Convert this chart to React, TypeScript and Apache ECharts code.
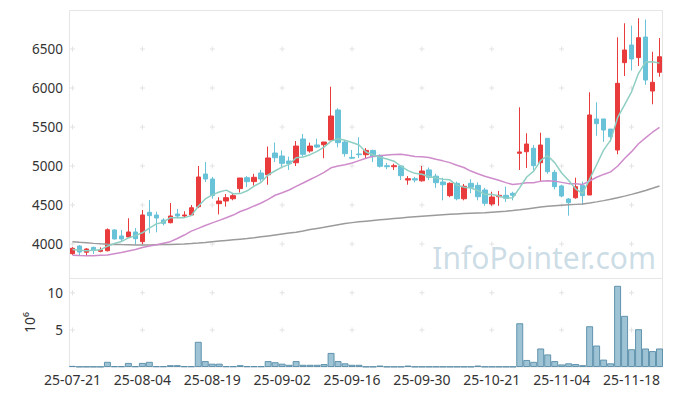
import React, { useEffect, useRef } from "react";
import * as echarts from "echarts";

// Trading days (KRX), tick labels as shown on the axis
const dates = [
  "25-07-21","25-07-22","25-07-23","25-07-24","25-07-25","25-07-28","25-07-29","25-07-30","25-07-31","25-08-01",
  "25-08-04","25-08-05","25-08-06","25-08-07","25-08-08","25-08-11","25-08-12","25-08-13","25-08-14","25-08-18",
  "25-08-19","25-08-20","25-08-21","25-08-22","25-08-25","25-08-26","25-08-27","25-08-28","25-08-29","25-09-01",
  "25-09-02","25-09-03","25-09-04","25-09-05","25-09-08","25-09-09","25-09-10","25-09-11","25-09-12","25-09-15",
  "25-09-16","25-09-17","25-09-18","25-09-19","25-09-22","25-09-23","25-09-24","25-09-25","25-09-26","25-09-29",
  "25-09-30","25-10-01","25-10-02","25-10-10","25-10-13","25-10-14","25-10-15","25-10-16","25-10-17","25-10-20",
  "25-10-21","25-10-22","25-10-23","25-10-24","25-10-27","25-10-28","25-10-29","25-10-30","25-10-31","25-11-03",
  "25-11-04","25-11-05","25-11-06","25-11-07","25-11-10","25-11-11","25-11-12","25-11-13","25-11-14","25-11-17",
  "25-11-18","25-11-19","25-11-20","25-11-21","25-11-24"
];

const opens = [
  3876,3974,3894,3957,3906,3914,4180,4103,4090,4154,
  4030,4406,4372,4308,4273,4385,4359,4372,4478,4897,
  4833,4517,4551,4580,4710,4850,4800,4910,4888,5166,
  5128,5064,5042,5346,5192,5270,5273,5333,5718,5307,
  5110,5154,5145,5200,5137,5004,4991,5000,4820,4837,
  4810,4950,4870,4795,4620,4778,4580,4778,4752,4692,
  4513,4606,4624,4650,5163,5183,5227,5042,5355,4919,
  4744,4577,4593,4752,4628,5603,5603,5474,5205,6325,
  6551,6390,6654,5961,6201
];
const closes = [
  3945,3897,3936,3923,3923,4183,4064,4064,4154,4068,
  4372,4363,4333,4265,4359,4359,4372,4465,4859,4833,
  4620,4551,4594,4620,4846,4799,4855,4833,5103,5106,
  5034,5030,5256,5150,5256,5243,5307,5641,5299,5158,
  5100,5145,5200,5119,4996,4991,5004,4876,4837,4820,
  4936,4855,4786,4760,4778,4580,4740,4727,4606,4522,
  4602,4624,4586,4624,5180,5282,5004,5269,4927,4735,
  4615,4530,4735,4620,5654,5543,5461,5375,6060,6487,
  6372,6645,6102,6073,6401
];
const lows = [
  3860,3850,3859,3872,3894,3905,4060,4035,4085,3990,
  4000,4137,4150,4240,4265,4330,4340,4360,4460,4795,
  4580,4380,4480,4560,4660,4730,4750,4800,4760,5050,
  4990,4950,5000,5120,5170,5230,5100,5333,5240,5120,
  5090,5102,5100,5050,4980,4960,4950,4820,4760,4790,
  4800,4820,4720,4560,4600,4560,4560,4650,4560,4490,
  4490,4490,4540,4560,4949,4975,4950,4808,4900,4700,
  4600,4363,4580,4500,4628,5388,5310,5310,5150,6154,
  6224,6283,6040,5791,6145
];
const highs = [
  3960,3985,3945,3965,3957,4200,4190,4180,4330,4205,
  4436,4564,4415,4330,4525,4450,4420,4500,5000,5051,
  4860,4600,4640,4650,4846,4870,4900,4950,5250,5300,
  5200,5120,5320,5410,5300,5350,5310,6017,5740,5330,
  5205,5368,5230,5210,5150,5040,5030,5010,4870,4860,
  5000,4980,4900,4850,4790,4800,4770,4830,4790,4720,
  4670,4680,4735,4670,5752,5420,5270,5427,5355,4950,
  4760,4590,4850,4800,5945,5817,5603,5474,6650,6830,
  6800,6894,6877,6465,6640
];
// volume in millions of shares (axis unit 10^6)
const volumes = [
  0.15,0.05,0.05,0.05,0.05,0.7,0.1,0.1,0.55,0.1,
  0.55,0.7,0.1,0.1,0.25,0.25,0.1,0.1,3.4,0.8,
  0.45,0.45,0.1,0.1,0.25,0.1,0.1,0.1,0.8,0.65,
  0.45,0.3,0.8,0.3,0.3,0.3,0.4,1.9,0.8,0.5,
  0.3,0.3,0.05,0.05,0.2,0.05,0.05,0.05,0.2,0.05,
  0.05,0.05,0.05,0.05,0.05,0.05,0.05,0.05,0.2,0.05,
  0.05,0.05,0.05,0.05,5.9,0.95,0.7,2.5,1.7,0.8,
  0.35,0.5,0.4,0.25,5.5,2.9,1.0,0.5,10.95,6.9,
  2.4,5.1,2.5,2.15,2.5
];
const ma5 = [
  3930,3920,3915,3920,3925,3972,4006,4031,4078,4107,
  4144,4204,4258,4280,4338,4336,4338,4364,4483,4578,
  4630,4666,4691,4644,4646,4682,4743,4791,4887,4939,
  4986,5021,5106,5115,5145,5187,5242,5319,5349,5330,
  5301,5269,5180,5144,5112,5090,5062,4997,4941,4906,
  4895,4865,4847,4831,4823,4752,4729,4717,4686,4635,
  4639,4616,4588,4592,4723,4859,4935,5072,5132,5043,
  4910,4815,4708,4647,4831,5016,5203,5331,5619,5785,
  5951,6188,6333,6336,6319
];
const ma20 = [
  3855,3852,3850,3850,3855,3860,3875,3890,3910,3930,
  3955,3975,3990,4010,4030,4070,4115,4165,4200,4237,
  4271,4303,4336,4371,4417,4448,4488,4526,4573,4625,
  4658,4692,4738,4782,4827,4871,4918,4977,4999,5015,
  5039,5069,5099,5124,5132,5141,5149,5151,5137,5123,
  5118,5109,5086,5066,5043,5009,4981,4935,4901,4869,
  4844,4818,4787,4763,4772,4786,4786,4806,4810,4806,
  4790,4774,4771,4764,4808,4856,4892,4925,4997,5096,
  5184,5285,5361,5433,5495
];
const ma60 = [
  4030,4022,4015,4008,4002,3998,3995,3992,3990,3988,
  3987,3988,3990,3992,3995,3998,4000,4005,4012,4020,
  4030,4038,4046,4054,4062,4070,4080,4092,4104,4116,
  4128,4140,4152,4168,4185,4200,4215,4232,4248,4262,
  4274,4284,4293,4302,4310,4318,4326,4334,4342,4350,
  4356,4362,4368,4374,4380,4385,4390,4394,4398,4402,
  4408,4414,4420,4428,4438,4450,4462,4474,4484,4490,
  4496,4502,4508,4514,4526,4540,4556,4574,4594,4614,
  4636,4660,4686,4714,4744
];

const priceTicks = [4000, 4500, 5000, 5500, 6000, 6500];
const volumeTicks = [5, 10];
const watermark = "InfoPointer.com";

const FONT = "Noto Sans";

export default function App() {
  const ref = useRef<HTMLDivElement>(null);

  useEffect(() => {
    if (!ref.current) return;
    const chart = echarts.init(ref.current, undefined, { renderer: "svg" });

    const tickIdx: number[] = [];
    for (let i = 0; i < dates.length; i += 10) tickIdx.push(i);
    const crossMain: number[][] = [];
    tickIdx.forEach((i) => priceTicks.forEach((v) => crossMain.push([i, v])));
    const crossVol: number[][] = [];
    tickIdx.forEach((i) => volumeTicks.forEach((v) => crossVol.push([i, v])));

    const candleData = dates.map((_, i) => [opens[i], closes[i], lows[i], highs[i]]);
    const crossSymbol = "path://M2,0H3V2H5V3H3V5H2V3H0V2H2Z";

    const yLabelStyle = { color: "#333", fontSize: 13.5, fontFamily: FONT };
    const xLabelStyle = { color: "#333", fontSize: 14, fontFamily: FONT };
    const plain = (v: number) => String(v);

    chart.setOption({
      animation: false,
      backgroundColor: "#fff",
      grid: [
        { left: 69, right: 10, top: 10, height: 273 },
        { left: 69, right: 10, top: 278, height: 89 },
      ],
      xAxis: [
        {
          type: "category", data: dates, gridIndex: 0, boundaryGap: true,
          axisLine: { show: false }, axisTick: { show: false },
          axisLabel: { show: false }, splitLine: { show: false },
        },
        {
          type: "category", data: dates, gridIndex: 1, boundaryGap: true,
          axisLine: { show: false }, axisTick: { show: false },
          axisLabel: { ...xLabelStyle, interval: 9, margin: 5 },
          splitLine: { show: false },
        },
      ],
      yAxis: [
        {
          type: "value", gridIndex: 0, min: 3500, max: 7000, interval: 500,
          axisLine: { show: false }, axisTick: { show: false }, splitLine: { show: false },
          axisLabel: { ...yLabelStyle, margin: 6, showMinLabel: false, showMaxLabel: false, formatter: plain },
        },
        {
          type: "value", gridIndex: 1, min: 0, max: 12, interval: 5,
          axisLine: { show: false }, axisTick: { show: false }, splitLine: { show: false },
          axisLabel: { ...yLabelStyle, margin: 6, showMinLabel: false, showMaxLabel: false, formatter: plain },
          name: "10⁶", nameLocation: "middle", nameRotate: 90, nameGap: 33,
          nameTextStyle: { color: "#333", fontSize: 14, fontFamily: FONT },
        },
      ],
      graphic: [
        {
          type: "rect", silent: true, z: -10,
          shape: { x: 69.5, y: 10.5, width: 593, height: 356.5 },
          style: { fill: "none", stroke: "#e6e6e6", lineWidth: 1 },
        },
        {
          type: "line", silent: true, z: -10,
          shape: { x1: 69.5, y1: 278.5, x2: 662.5, y2: 278.5 },
          style: { stroke: "#e6e6e6", lineWidth: 1 },
        },
        {
          type: "text", silent: true, z: -5,
          x: 656, y: 257,
          style: {
            text: watermark, fill: "rgba(140,178,200,0.45)",
            font: "30px 'Noto Sans'", textAlign: "right", textVerticalAlign: "middle",
          },
        },
      ],
      series: [
        {
          type: "scatter", xAxisIndex: 0, yAxisIndex: 0, data: crossMain,
          symbol: crossSymbol, symbolSize: 5, silent: true, z: 0,
          itemStyle: { color: "#dcdcdc" },
        },
        {
          type: "scatter", xAxisIndex: 1, yAxisIndex: 1, data: crossVol,
          symbol: crossSymbol, symbolSize: 5, silent: true, z: 0,
          itemStyle: { color: "#dcdcdc" },
        },
        {
          type: "candlestick", xAxisIndex: 0, yAxisIndex: 0, data: candleData,
          barWidth: 5, z: 2,
          itemStyle: {
            color: "#e93a3c", color0: "#68c2d8",
            borderColor: "#e93a3c", borderColor0: "#68c2d8", borderWidth: 1,
          },
        },
        {
          type: "line", xAxisIndex: 0, yAxisIndex: 0, data: ma60, z: 3,
          symbol: "none", lineStyle: { color: "#9b9b9b", width: 1.5 },
        },
        {
          type: "line", xAxisIndex: 0, yAxisIndex: 0, data: ma20, z: 3,
          symbol: "none", lineStyle: { color: "#cf8ccb", width: 1.5 },
        },
        {
          type: "line", xAxisIndex: 0, yAxisIndex: 0, data: ma5, z: 3,
          symbol: "none", lineStyle: { color: "#8fcfc3", width: 1.5 },
        },
        {
          type: "bar", xAxisIndex: 1, yAxisIndex: 1, data: volumes,
          barWidth: "100%", z: 2,
          itemStyle: {
            color: "rgba(130,178,200,0.78)",
            borderColor: "rgba(80,135,165,0.85)", borderWidth: 1,
          },
        },
      ],
    });

    return () => chart.dispose();
  }, []);

  return (
    <div
      ref={ref}
      style={{ position: "fixed", left: 0, top: 0, width: 673, height: 396 }}
    />
  );
}
